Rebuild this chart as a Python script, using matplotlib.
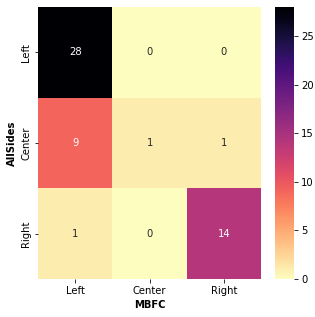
import matplotlib
matplotlib.use("Agg")
import matplotlib.pyplot as plt
import seaborn as sns
import numpy as np

row_labels = ["Left", "Center", "Right"]
col_labels = ["Left", "Center", "Right"]
values = [[28, 0, 0],
          [9, 1, 1],
          [1, 0, 14]]

fig = plt.figure(figsize=(315 / 72, 317 / 72), dpi=72)
ax = fig.add_axes([0.121, 0.120, 0.708, 0.858])
cax = fig.add_axes([0.873, 0.120, 0.06, 0.858])
sns.heatmap(np.array(values), annot=True, fmt="d", cmap="magma_r",
            xticklabels=col_labels, yticklabels=row_labels, ax=ax, cbar_ax=cax)
ax.set_xlabel("MBFC", fontweight="bold")
ax.set_ylabel("AllSides", fontweight="bold")
fig.savefig("out.png", dpi=72)
